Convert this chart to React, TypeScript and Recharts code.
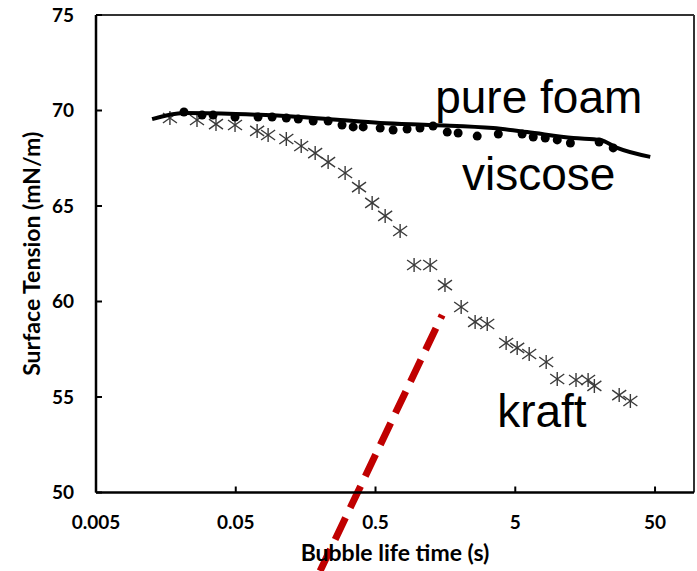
import React from 'react';
import { ScatterChart, Scatter, XAxis, YAxis, ReferenceLine, Label } from 'recharts';

// Axis ticks
const xTicks = [0.005, 0.05, 0.5, 5, 50];
const yTicks = [50, 55, 60, 65, 70, 75];
const xMin = 0.005;
const xMax = 95;
const yMin = 50;
const yMax = 75;

// viscose (pure foam) measured points (filled circles)
const viscoseTime = [0.0213, 0.0287, 0.0344, 0.0494, 0.0722, 0.091, 0.115, 0.14, 0.179, 0.229, 0.288, 0.346, 0.408, 0.54, 0.668, 0.841, 1.04, 1.29, 1.63, 1.95, 2.67, 3.78, 5.6, 6.72, 8.19, 9.98, 12.4, 19.9, 25.1];
const viscoseTension = [69.92, 69.76, 69.76, 69.66, 69.66, 69.66, 69.61, 69.55, 69.45, 69.45, 69.24, 69.14, 69.14, 69.08, 68.98, 69.03, 69.08, 69.19, 68.87, 68.82, 68.66, 68.77, 68.77, 68.61, 68.56, 68.46, 68.3, 68.35, 68.04];

// pure foam fitted curve (thick line)
const fitTime = [0.0126, 0.0213, 0.0501, 0.144, 0.279, 0.54, 1.29, 3.47, 6.08, 13.0, 20.3, 26.8, 46.2];
const fitTension = [69.55, 69.87, 69.82, 69.66, 69.5, 69.35, 69.24, 69.08, 68.87, 68.56, 68.46, 68.04, 67.57];

// kraft measured points (asterisks)
const kraftTime = [0.0169, 0.0264, 0.0361, 0.0494, 0.0711, 0.0852, 0.115, 0.147, 0.185, 0.229, 0.303, 0.381, 0.473, 0.586, 0.75, 0.944, 1.23, 1.57, 2.05, 2.58, 3.15, 4.3, 5.16, 6.29, 8.32, 9.98, 13.6, 16.6, 18.4, 27.7, 33.3];
const kraftTension = [69.61, 69.5, 69.29, 69.24, 68.93, 68.72, 68.51, 68.14, 67.77, 67.3, 66.73, 65.99, 65.16, 64.48, 63.69, 61.91, 61.91, 60.86, 59.71, 58.93, 58.82, 57.83, 57.57, 57.25, 56.83, 55.94, 55.89, 55.89, 55.58, 55.1, 54.79];

// red dashed guide line (end points)
const dashTime = [0.2006, 1.5];
const dashTension = [45.89, 59.29];

// text annotations
const noteText = ['pure foam', 'viscose', 'kraft'];
const noteTime = [1.336, 2.08, 3.71];
const noteTension = [69.87, 65.84, 53.43];

const viscoseData = viscoseTime.map((x, i) => ({ x, y: viscoseTension[i] }));
const fitData = fitTime.map((x, i) => ({ x, y: fitTension[i] }));
const kraftData = kraftTime.map((x, i) => ({ x, y: kraftTension[i] }));
const noteData = noteText.map((t, i) => ({ x: noteTime[i], y: noteTension[i], t }));
const dashSegment = dashTime.map((x, i) => ({ x, y: dashTension[i] }));

const TICK_FONT = 'Lato, "DejaVu Sans", sans-serif';

const Dot = (p: any) => <circle cx={p.cx} cy={p.cy} r={4.5} fill="#000" />;

const Asterisk = (p: any) => {
  const { cx, cy } = p;
  return (
    <g stroke="#3a3a3a" strokeWidth={1.4}>
      <line x1={cx} y1={cy - 7} x2={cx} y2={cy + 7} />
      <line x1={cx - 7} y1={cy - 5} x2={cx + 7} y2={cy + 5} />
      <line x1={cx - 7} y1={cy + 5} x2={cx + 7} y2={cy - 5} />
    </g>
  );
};

const Empty = () => <g />;

const Note = (p: any) => (
  <text
    x={p.cx}
    y={p.cy}
    textAnchor="start"
    fontFamily='"Liberation Sans", Arial, sans-serif'
    fontSize={46}
    fill="#000"
  >
    {p.payload.t}
  </text>
);

export default function App() {
  return (
    <div style={{ position: 'absolute', left: 0, top: 0, width: 697, height: 571, background: '#fff' }}>
      <ScatterChart width={697} height={571} margin={{ top: 15, right: 3, bottom: 0, left: 0 }}>
        <XAxis
          dataKey="x"
          type="number"
          scale="log"
          domain={[xMin, xMax]}
          allowDataOverflow
          ticks={xTicks}
          tickFormatter={(v: number) => String(v)}
          height={78.5}
          axisLine={{ stroke: '#000', strokeWidth: 2.5 }}
          tickLine={{ stroke: '#000', strokeWidth: 2 }}
          tickSize={-6}
          tickMargin={29}
          tick={{ fontFamily: TICK_FONT, fontWeight: 700, fontSize: 19, fill: '#000' }}
          interval={0}
        >
          <Label
            value="Bubble life time (s)"
            position="insideBottom"
            offset={10}
            style={{ fontFamily: TICK_FONT, fontWeight: 700, fontSize: 23, fill: '#000' }}
          />
        </XAxis>
        <YAxis
          dataKey="y"
          type="number"
          domain={[yMin, yMax]}
          allowDataOverflow
          ticks={yTicks}
          width={96}
          axisLine={{ stroke: '#000', strokeWidth: 2.5 }}
          tickLine={{ stroke: '#000', strokeWidth: 2 }}
          tickSize={-6}
          tickMargin={28}
          tick={{ fontFamily: TICK_FONT, fontWeight: 700, fontSize: 19, fill: '#000' }}
          interval={0}
        >
          <Label
            value="Surface Tension (mN/m)"
            angle={-90}
            position="insideLeft"
            offset={32}
            style={{ fontFamily: TICK_FONT, fontWeight: 700, fontSize: 23, fill: '#000', textAnchor: 'middle' }}
          />
        </YAxis>
        <ReferenceLine y={yMax} stroke="#333" strokeWidth={2} />
        <ReferenceLine x={xMax} stroke="#333" strokeWidth={2} />
        <Scatter data={kraftData} shape={Asterisk} isAnimationActive={false} />
        <Scatter
          data={fitData}
          shape={Empty}
          line={{ stroke: '#000', strokeWidth: 4 }}
          lineType="joint"
          lineJointType="monotoneX"
          isAnimationActive={false}
        />
        <Scatter data={viscoseData} shape={Dot} isAnimationActive={false} />
        <Scatter data={noteData} shape={Note} isAnimationActive={false} />
        <ReferenceLine
          segment={dashSegment}
          ifOverflow="visible"
          stroke="#C00000"
          strokeWidth={7}
          strokeDasharray="24 11"
        />
      </ScatterChart>
    </div>
  );
}
